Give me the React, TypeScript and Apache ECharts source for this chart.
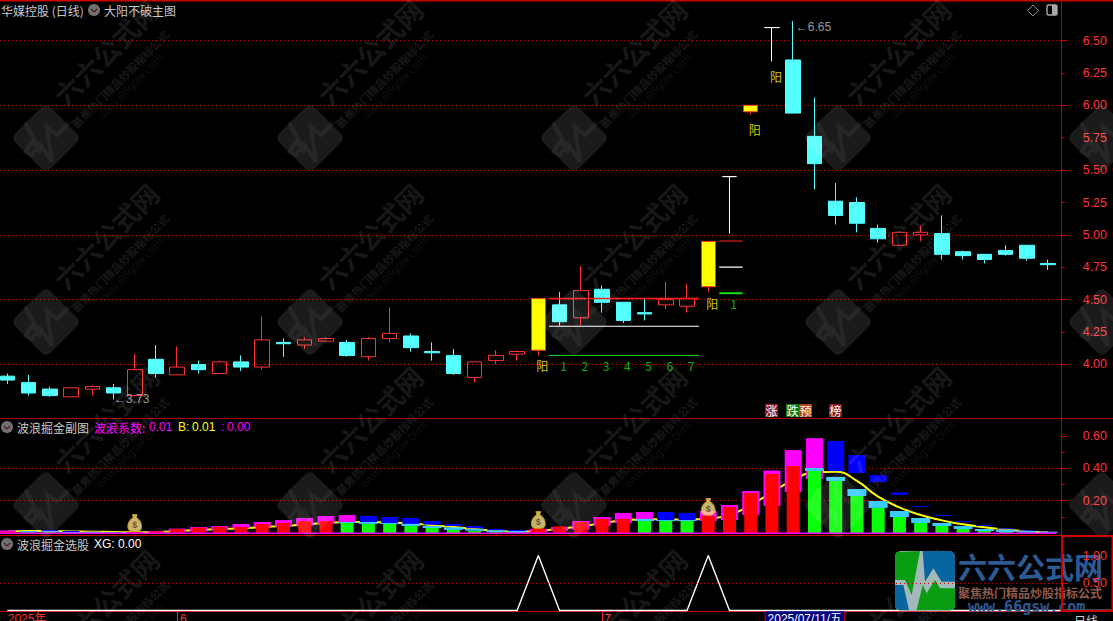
import React, { useEffect, useRef } from "react";
import * as echarts from "echarts";

// ---- price pane data ----
const candleOpen = [3.91,3.86,3.81,3.75,3.81,3.82,3.76,4.04,3.92,4.00,3.93,4.02,3.98,4.17,4.15,4.18,4.17,4.06,4.20,4.22,4.10,4.07,3.90,4.03,4.08,4.11,4.46,4.36,4.58,4.48,4.40,4.46,4.45,4.60,5.45,5.95,6.60,6.35,5.76,5.26,5.25,5.05,4.92,5.00,5.01,4.87,4.85,4.88,4.92,4.78];
const candleClose = [3.88,3.78,3.76,3.82,3.83,3.78,3.96,3.93,3.98,3.96,4.02,3.98,4.19,4.16,4.19,4.20,4.07,4.20,4.24,4.13,4.09,3.93,4.02,4.07,4.10,4.51,4.33,4.57,4.48,4.34,4.39,4.50,4.51,4.95,5.45,6.00,6.60,5.94,5.55,5.15,5.09,4.97,5.02,5.02,4.85,4.84,4.81,4.85,4.82,4.77];
const candleLow = [3.85,3.76,3.75,3.75,3.76,3.73,3.75,3.90,3.92,3.93,3.93,3.95,3.96,4.06,4.12,4.17,4.06,4.03,4.17,4.10,4.03,3.92,3.86,4.00,4.03,4.07,4.30,4.30,4.40,4.32,4.34,4.43,4.40,4.56,5.01,5.93,6.34,5.94,5.35,5.08,5.02,4.94,4.92,4.95,4.81,4.81,4.78,4.84,4.80,4.73];
const candleHigh = [3.93,3.92,3.83,3.82,3.84,3.85,4.08,4.15,4.14,4.03,4.03,4.07,4.37,4.20,4.21,4.21,4.19,4.21,4.44,4.24,4.17,4.12,4.02,4.11,4.11,4.51,4.56,4.76,4.61,4.48,4.51,4.64,4.62,4.95,5.45,6.00,6.60,6.65,6.06,5.40,5.29,5.08,5.03,5.07,5.15,4.88,4.85,4.92,4.92,4.81];
const candleKind = [
  "d","d","d","u","u","d","u","d","u","d",
  "u","d","u","d","u","u","d","u","u","d",
  "d","d","u","u","u","y","d","u","d","d",
  "d","u","u","y","t","y","t","d","d","d",
  "d","d","u","u","d","d","d","d","d","d",
];
const resistRed = [4.51, 4.953];
const resistWhite = [4.295, 4.752];
const resistGreen = [4.07, 4.55];
const resistFrom = [25.5, 33.52];
const resistTo = [32.56, 34.62];
const signalIndex = [25,26,27,28,29,30,31,32,33,34,35,36];
const signalPrice = [3.99,3.99,3.99,3.99,3.99,3.99,3.99,3.99,4.467,4.467,5.81,6.22];
const signalText = ["阳","1","2","3","4","5","6","7","阳","1","阳","阳"];
const priceTicks = [4,4.25,4.5,4.75,5,5.25,5.5,5.75,6,6.25,6.5];
const priceSplits = [4,4.5,5,5.5,6,6.5];
const priceMinor = [4.25,4.75,5.25,5.75,6.25];

// ---- wave pane data ----
const columnValues = [.008,.004,.004,.002,.002,.002,.004,.01,.025,.033,.039,.037,.056,.062,.074,.074,.062,.056,.056,.043,.031,.019,.012,.006,.002,.029,.041,.068,.087,.087,.074,.074,.074,.105,.161,.248,.365,.415,.384,.322,.229,.155,.099,.062,.043,.025,.012,.006,.002,.002];
const columnIsRed = [
  1,0,0,0,0,0,1,1,1,1,
  1,1,1,1,1,1,0,0,0,0,
  0,0,0,0,0,1,1,1,1,1,
  0,0,0,1,1,1,1,1,0,0,
  0,0,0,0,0,0,0,0,0,0,
];
const upperLow = [.004,.004,.010,.006,.004,.004,.002,.004,.008,.010,.016,.029,.037,.039,.045,.056,.066,.066,.062,.056,.052,.043,.029,.016,.012,.006,.014,.019,.043,.062,.087,.080,.080,.074,.080,.111,.167,.253,.334,.383,.371,.315,.235,.163,.107,.070,.045,.027,.014,.006];
const upperHigh = [.016,.012,.019,.012,.008,.006,.006,.012,.027,.037,.043,.056,.068,.080,.093,.105,.111,.105,.099,.093,.074,.056,.043,.025,.019,.025,.037,.074,.099,.124,.130,.130,.124,.136,.173,.260,.387,.513,.587,.569,.482,.358,.251,.167,.111,.074,.049,.029,.016,.008];
const upperIsMagenta = [
  1,0,0,0,0,0,1,1,1,1,
  1,1,1,1,1,1,1,0,0,0,
  0,0,0,0,0,1,1,1,1,1,
  1,0,0,1,1,1,1,1,1,0,
  0,0,0,0,0,0,0,0,0,0,
];
const cyanIndex = [1,2,3,4,5,16,17,18,19,20,21,22,23,24,30,31,32,38,39,40,41,42,43,44,45,46,47,48,49];
const cyanLow = [.004,.004,.002,.002,.002,.062,.056,.056,.043,.031,.019,.014,.006,.002,.074,.074,.074,.384,.322,.229,.155,.099,.062,.043,.025,.012,.006,.002,.002];
const cyanHigh = [.012,.010,.006,.006,.004,.068,.068,.062,.056,.043,.035,.025,.016,.012,.087,.080,.080,.402,.347,.272,.198,.136,.093,.062,.043,.025,.019,.012,.008];
const waveLine = [.008,.012,.012,.010,.008,.006,.004,.006,.012,.019,.023,.029,.037,.043,.054,.062,.068,.068,.064,.060,.047,.037,.025,.014,.008,.012,.027,.041,.062,.078,.085,.085,.082,.089,.111,.173,.252,.328,.375,.379,.322,.225,.159,.111,.078,.054,.035,.021,.010,.004];
const bagIndex = [6,25,33];
const bagLevel = [.062,.08,.161];
const waveTicks = [.2,.4,.6];
const waveSplits = [.2,.4];
const waveMinor = [.1,.3,.5];

// ---- selection pane data ----
const xgValues = [0,0,0,0,0,0,0,0,0,0,0,0,0,0,0,0,0,0,0,0,0,0,0,0,0,1,0,0,0,0,0,0,0,1,0,0,0,0,0,0,0,0,0,0,0,0,0,0,0,0];

// ---- time axis ----
const dateTickAt = [0.02, 8.13, 28.1, 35.7];
const dateTickText = ["2025年", "6", "7", "2025/07/11/五"];

const FONT = "'Noto Sans CJK SC', 'Liberation Sans', sans-serif";
const NUM = "'Liberation Sans', Arial, sans-serif";
const NUMCJK = "'Liberation Sans', 'Noto Sans CJK SC', sans-serif";
const RED = "#ff3232";
const CYAN = "#54ffff";
const FRAME = "#b80000";
const XMIN = -0.344;
const XMAX = 49.64;

const txt = (text: string, x: number, y: number, fontSize: number, fill: string, extra: any = {}, z = 20) => ({
  type: "text", x, y, z, silent: true, rotation: extra.rotation || 0,
  style: { text, fontSize, fill, fontFamily: extra.fontFamily || FONT, fontWeight: extra.fontWeight || "normal",
    textAlign: extra.textAlign || "left", textVerticalAlign: "middle", opacity: extra.opacity ?? 1 },
});
const hline = (y: number, color: string, x1 = 0, x2 = 1113, w = 1, z = 10) => ({
  type: "line", z, silent: true, shape: { x1, y1: y, x2, y2: y }, style: { stroke: color, lineWidth: w },
});
const icon = (cx: number, cy: number) => [
  { type: "circle", z: 20, silent: true, shape: { cx, cy, r: 6 }, style: { fill: "#707070" } },
  { type: "polyline", z: 21, silent: true, shape: { points: [[cx - 3, cy - 1], [cx, cy + 2], [cx + 3, cy - 1]] }, style: { stroke: "#501818", lineWidth: 1.2, fill: "none" } },
];
const badge = (text: string, x: number, bg: string) => [
  { type: "rect", z: 20, silent: true, shape: { x, y: 404, width: 13, height: 13 }, style: { fill: bg } },
  txt(text, x + 6.5, 410.5, 12, "#ffffff", { textAlign: "center" }),
];

const watermark = () => {
  const out: any[] = [];
  const R = Math.PI / 4;
  for (const cy of [138, 322, 505, 688]) {
    for (const cx of [46, 310, 574, 838, 1102]) {
      out.push({ type: "rect", z: 50, silent: true, x: cx, y: cy, rotation: R, shape: { x: -25, y: -25, width: 50, height: 50, r: 6 }, style: { fill: "rgba(255,255,255,0.105)" } });
      out.push({ type: "polyline", z: 51, silent: true, x: cx, y: cy, shape: { points: [[-21, -16], [-5, 15], [-14, 4], [-21, 14], [-14, 17], [-6, 6], [6, 24], [1, -11], [11, -3], [24, -16]] }, style: { stroke: "rgba(255,255,255,0.055)", lineWidth: 4, fill: "none" } });
      if (cx > 1100) continue;
      out.push(txt("六六公式网", cx + 60, cy - 86, 27, "rgba(255,255,255,0.1)", { rotation: R, textAlign: "center", fontWeight: "bold" }, 51));
      out.push(txt("聚焦热门精品炒股指标公式", cx + 74, cy - 59, 11, "rgba(255,255,255,0.11)", { rotation: R, textAlign: "center", fontWeight: "bold" }, 51));
      out.push(txt("www.66gsw.com", cx + 84, cy - 51, 12, "rgba(255,255,255,0.08)", { rotation: R, textAlign: "center", fontFamily: NUM }, 51));
    }
  }
  return out;
};

const logo = () => {
  const p = (a: number[][]) => a.map(([x, y]) => [740 + x / 3, 530 + y / 3]);
  const poly = (pts: number[][], fill: string) => ({ type: "polygon", z: 60, silent: true, shape: { points: p(pts) }, style: { fill } });
  return [
    { type: "rect", z: 60, silent: true, shape: { x: 895, y: 551, width: 60, height: 60, r: 6 }, style: { fill: "#a3b8b8" } },
    poly([[470, 66], [540, 63], [515, 195], [495, 150], [465, 150], [465, 75]], "#0a9c12"),
    poly([[548, 63], [635, 63], [645, 75], [645, 155], [605, 155], [580, 115], [555, 155]], "#08659f"),
    poly([[465, 165], [490, 165], [507, 240], [475, 240], [465, 232]], "#08659f"),
    poly([[530, 240], [548, 165], [560, 190], [585, 150], [600, 175], [645, 175], [645, 232], [635, 240]], "#0a9c12"),
    txt("六六公式网", 958, 566, 29, "#2c5a94", { fontWeight: "bold" }, 60),
    txt("聚焦热门精品炒股指标公式", 958, 592, 12, "#8e5a4c", { fontWeight: "bold" }, 60),
    txt("www.66gsw.com", 968, 607, 15, "#2c5a94", { fontWeight: "bold", fontFamily: "'DejaVu Sans Mono', monospace" }, 60),
  ];
};

const block = (width: number, color: (i: number) => string) => (params: any, api: any) => {
  const x = api.value(0);
  const top = api.coord([x, api.value(2)]);
  const bot = api.coord([x, api.value(1)]);
  return {
    type: "rect",
    shape: { x: top[0] - width / 2, y: top[1], width, height: Math.max(bot[1] - top[1], 1) },
    style: { fill: color(params.dataIndex) },
  };
};

const yAxisBase = (gridIndex: number, min: number, max: number) => ({
  type: "value", gridIndex, min, max, position: "right",
  axisLine: { show: true, onZero: false, lineStyle: { color: FRAME, width: 1 } },
  splitLine: { show: false }, axisLabel: { show: false }, axisTick: { show: false },
});
const tickAxis = (gridIndex: number, min: number, max: number, values: number[], length: number) => ({
  ...yAxisBase(gridIndex, min, max),
  axisLine: { show: false, onZero: false },
  axisTick: { show: true, length, customValues: values, lineStyle: { color: "#d00000" } },
});
const labelAxis = (gridIndex: number, min: number, max: number, splits: number[], labels: number[], z?: number) => ({
  ...yAxisBase(gridIndex, min, max),
  ...(z ? { z } : {}),
  axisTick: { show: true, length: 6, customValues: splits, lineStyle: { color: "#d00000" } },
  splitLine: { show: true, lineStyle: { color: "#c00000", type: [1, 3], width: 1 } },
  axisLabel: { show: true, margin: 21, color: RED, fontSize: 12.5, fontFamily: NUM, customValues: labels, formatter: (v: number) => v.toFixed(2) },
});

export default function App() {
  const ref = useRef<HTMLDivElement>(null);
  useEffect(() => {
    const chart = echarts.init(ref.current!, null, { renderer: "svg" });
    const candleData = candleOpen.map((o, i) => {
      const k = candleKind[i];
      const fill = k === "d" ? CYAN : k === "y" ? "#ffff00" : "rgba(0,0,0,0)";
      const border = k === "d" ? CYAN : k === "t" ? "#ffffff" : RED;
      return {
        value: [i, o, candleClose[i], candleLow[i], candleHigh[i]],
        itemStyle: { color: fill, color0: fill, borderColor: border, borderColor0: border, borderColorDoji: border, borderWidth: 1 },
      };
    });
    const resist = (vals: number[], color: string, width: number[]) =>
      vals.map((v, k) => ({
        type: "line", xAxisIndex: 0, yAxisIndex: 0, symbol: "none", silent: true, z: 4,
        data: [[resistFrom[k], v], [resistTo[k], v]], lineStyle: { color, width: width[k] },
      }));
    const option: any = {
      animation: false,
      backgroundColor: "#000000",
      grid: [
        { left: 0, top: 1, width: 1061.7, height: 417, outerBoundsMode: "none" },
        { left: 0, top: 418.5, width: 1061.7, height: 117, outerBoundsMode: "none" },
        { left: 0, top: 535.5, width: 1061.7, height: 75.5, outerBoundsMode: "none" },
      ],
      xAxis: [
        { type: "value", gridIndex: 0, min: XMIN, max: XMAX, show: false, splitLine: { show: false } },
        { type: "value", gridIndex: 1, min: XMIN, max: XMAX, show: false, splitLine: { show: false } },
        {
          type: "value", gridIndex: 2, min: XMIN, max: XMAX, splitLine: { show: false },
          axisLine: { show: true, onZero: false, lineStyle: { color: "#d00000" } },
          axisTick: { show: true, length: 10, customValues: [8, 28], lineStyle: { color: "#ff2020" } },
          axisLabel: {
            show: true, margin: 0, align: "left", customValues: dateTickAt, fontFamily: NUMCJK,
            formatter: (v: number) => {
              const t = dateTickText[dateTickAt.indexOf(v)] ?? "";
              return t.length > 8 ? `{d|${t}}` : `{a|${t}}`;
            },
            rich: {
              a: { color: RED, fontSize: 12, fontFamily: NUMCJK, padding: [2, 0, 0, 0] },
              d: { color: "#ffffff", fontSize: 12, fontFamily: NUMCJK, backgroundColor: "#00007c", borderColor: "#c00000", borderWidth: 1, padding: [2, 2, 3, 2] },
            },
          },
        },
        {
          type: "value", gridIndex: 2, min: XMIN, max: XMAX, splitLine: { show: false },
          axisLine: { show: false, onZero: false }, axisLabel: { show: false },
          axisTick: { show: true, length: 3, customValues: [13, 18, 23], lineStyle: { color: "#d00000" } },
        },
      ],
      yAxis: [
        labelAxis(0, 3.587, 6.805, priceSplits, priceTicks),
        tickAxis(0, 3.587, 6.805, priceMinor, 3),
        labelAxis(1, -0.0155, 0.7085, waveSplits, waveTicks),
        tickAxis(1, -0.0155, 0.7085, waveMinor, 3),
        tickAxis(1, -0.0155, 0.7085, [0.6], 6),
        labelAxis(2, -0.009, 1.364, [0.5], [0.5, 1], 70),
      ],
      series: [
        { type: "candlestick", xAxisIndex: 0, yAxisIndex: 0, barWidth: 15, clip: false, silent: true, data: candleData, z: 3 },
        ...resist(resistRed, "#ff2020", [1.5, 1.2]),
        ...resist(resistWhite, "#ffffff", [1.2, 1.2]),
        ...resist(resistGreen, "#14e014", [1, 2]),
        {
          type: "scatter", xAxisIndex: 0, yAxisIndex: 0, symbolSize: 1, silent: true, z: 6,
          itemStyle: { color: "rgba(0,0,0,0)" },
          data: signalIndex.map((x, k) => ({
            value: [x, signalPrice[k]],
            label: {
              show: true, position: "inside", offset: [4, 0], formatter: signalText[k], fontSize: 12, fontFamily: FONT,
              color: signalText[k] === "阳" ? "#ffff00" : "#10e010",
            },
          })),
        },
        {
          type: "scatter", xAxisIndex: 0, yAxisIndex: 0, symbolSize: 1, silent: true, z: 6,
          itemStyle: { color: "rgba(0,0,0,0)" },
          label: { show: true, position: "right", distance: 0, color: "#c0c0c0", fontSize: 12, fontFamily: NUM, formatter: (p: any) => "←" + p.value[1].toFixed(2) },
          data: [
            { value: [5, 3.73] },
            { value: [37.1, 6.65], label: { offset: [0, 6] } },
          ],
        },
        {
          type: "line", xAxisIndex: 1, yAxisIndex: 2, symbol: "none", smooth: true, silent: true, z: 2,
          data: waveLine.map((v, i) => [i, v]), lineStyle: { color: "#ffff00", width: 2 },
        },
        {
          type: "custom", xAxisIndex: 1, yAxisIndex: 2, silent: true, z: 3, clip: false,
          renderItem: block(17, (i) => (upperIsMagenta[i] ? "#ff00ff" : "#0000ff")),
          encode: { x: 0, y: [1, 2] },
          data: upperLow.map((v, i) => [i, v, upperHigh[i]]),
        },
        {
          type: "custom", xAxisIndex: 1, yAxisIndex: 2, silent: true, z: 4, clip: false,
          renderItem: block(13, (i) => (columnIsRed[i] ? "#ff0000" : "#0aff0a")),
          encode: { x: 0, y: [1, 2] },
          data: columnValues.map((v, i) => [i, 0, v]),
        },
        {
          type: "custom", xAxisIndex: 1, yAxisIndex: 2, silent: true, z: 5, clip: false,
          renderItem: block(19, () => "#38ccff"),
          encode: { x: 0, y: [1, 2] },
          data: cyanIndex.map((x, k) => [x, cyanLow[k], cyanHigh[k]]),
        },
        {
          type: "line", xAxisIndex: 1, yAxisIndex: 2, symbol: "none", silent: true, z: 6,
          data: [[XMIN, -0.002], [49.4, -0.002]], lineStyle: { color: "#ff00ff", width: 1.5 },
        },
        {
          type: "scatter", xAxisIndex: 1, yAxisIndex: 2, silent: true, z: 7,
          symbol: "path://M7 1 L13 1 L12 5 C18 9 19 14 19 17 C19 22 15 23 10 23 C5 23 1 22 1 17 C1 14 2 9 8 5 Z",
          symbolSize: [14, 17],
          itemStyle: { color: "#f7e28c", borderColor: "#d49c10", borderWidth: 1 },
          label: { show: true, position: "inside", formatter: "$", color: "#5a3a00", fontSize: 9, fontWeight: "bold", fontFamily: NUM, offset: [0, 2] },
          data: bagIndex.map((x, k) => [x, bagLevel[k]]),
        },
        {
          type: "line", xAxisIndex: 2, yAxisIndex: 5, symbol: "none", silent: true, z: 4,
          data: xgValues.map((v, i) => [i, v]), lineStyle: { color: "#ffffff", width: 1.4 },
        },
      ],
      graphic: [
        hline(0.5, "#c80000", 0, 1113, 2),
        hline(418.5, "#a80000"),
        hline(535.5, "#d00000"),
        { type: "line", z: 10, silent: true, shape: { x1: 1048, y1: 610.5, x2: 1113, y2: 610.5 }, style: { stroke: "#ffffff", lineWidth: 1.4 } },
        { type: "rect", z: 65, silent: true, shape: { x: 1062, y: 536, width: 50.5, height: 75 }, style: { fill: "rgba(0,0,0,0)", stroke: "#d00000", lineWidth: 2 } },
        txt("华媒控股 (日线)", 1, 10, 12, "#c8c8c8"),
        ...icon(94, 10),
        txt("大阳不破主图", 104, 10, 12, "#c8c8c8"),
        ...icon(7, 427),
        txt("波浪掘金副图", 17, 427, 12, "#c8c8c8"),
        txt("波浪系数:", 94, 427, 12, "#ff00ff"),
        txt("0.01", 149, 427, 12, "#ff00ff", { fontFamily: NUM }),
        txt("B:", 178, 427, 12, "#ffff00", { fontFamily: NUM }),
        txt("0.01", 192, 427, 12, "#ffff00", { fontFamily: NUM }),
        txt(":", 221, 427, 12, "#ff00ff", { fontFamily: NUM }),
        txt("0.00", 227, 427, 12, "#ff00ff", { fontFamily: NUM }),
        ...icon(7, 544),
        txt("波浪掘金选股", 17, 544, 12, "#c8c8c8"),
        txt("XG: 0.00", 94, 544, 12, "#ffffff", { fontFamily: NUM }),
        txt("日线", 1074, 620, 12, "#d0d0d0"),
        { type: "polygon", z: 20, silent: true, shape: { points: [[1033, 5], [1038.5, 10.5], [1033, 16], [1027.5, 10.5]] }, style: { fill: "rgba(0,0,0,0)", stroke: "#909090", lineWidth: 1 } },
        { type: "rect", z: 20, silent: true, shape: { x: 1047, y: 5, width: 10, height: 10, r: 1.5 }, style: { fill: "rgba(0,0,0,0)", stroke: "#a8a8a8", lineWidth: 1.4 } },
        { type: "rect", z: 20, silent: true, shape: { x: 1052, y: 5, width: 5, height: 10 }, style: { fill: "#a8a8a8" } },
        ...badge("涨", 765, "#8e1a1a"),
        ...badge("跌", 786, "#0e7a0e"),
        ...badge("预", 799, "#b8401e"),
        ...badge("榜", 829, "#8e1a1a"),
        ...watermark(),
        ...logo(),
      ],
    };
    chart.setOption(option);
    return () => chart.dispose();
  }, []);
  return <div ref={ref} style={{ position: "fixed", left: 0, top: 0, width: 1113, height: 621, background: "#000" }} />;
}
